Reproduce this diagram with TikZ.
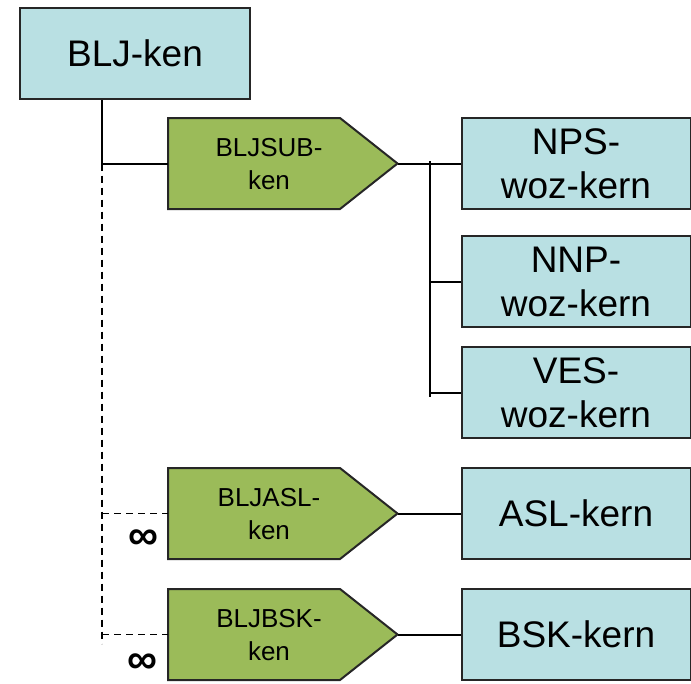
\documentclass[tikz,border=0pt]{standalone}
\usepackage{fontspec}
\setmainfont{Liberation Sans}
\definecolor{boxblue}{RGB}{185,224,227}
\definecolor{boxgreen}{RGB}{155,187,89}
\begin{document}
\begin{tikzpicture}[x=1pt,y=-1pt,
  bluebox/.style={draw=black!85,line width=2pt,fill=boxblue,minimum width=229pt,minimum height=91pt,inner sep=0pt,align=center,font=\fontsize{37}{44}\selectfont},
  gshape/.style={draw=black!85,line width=2pt,fill=boxgreen},
  gtext/.style={align=center,inner sep=0pt,font=\fontsize{26}{33}\selectfont},
  conn/.style={line width=2pt,draw=black},
  dconn/.style={line width=1.8pt,draw=black,dash pattern=on 7pt off 5pt},
  inf/.style={inner sep=0pt,font=\fontsize{42}{42}\selectfont\bfseries}]
\useasboundingbox (0,0) rectangle (691,683);
% top box
\node[bluebox,minimum width=230pt] (blj) at (135,53.5) {BLJ-ken};
% green shapes
\path[gshape] (168,118) -- (340,118) -- (397.5,163.5) -- (340,209) -- (168,209) -- cycle;
\coordinate (subL) at (168,163.5);
\coordinate (subT) at (397.5,163.5);
\node[gtext] (sub) at (269,164) {BLJSUB-\\ken};
\path[gshape] (168,468) -- (340,468) -- (397.5,513.5) -- (340,559) -- (168,559) -- cycle;
\coordinate (aslL) at (168,513.5);
\coordinate (aslT) at (397.5,513.5);
\node[gtext] (asl) at (269,514) {BLJASL-\\ken};
\path[gshape] (168,589) -- (340,589) -- (397.5,634.5) -- (340,680) -- (168,680) -- cycle;
\coordinate (bskL) at (168,634.5);
\coordinate (bskT) at (397.5,634.5);
\node[gtext] (bsk) at (269,635) {BLJBSK-\\ken};
% right boxes
\node[bluebox] (nps) at (576,163.5) {NPS-\\woz-kern};
\node[bluebox] (nnp) at (576,281.5) {NNP-\\woz-kern};
\node[bluebox] (ves) at (576,392.5) {VES-\\woz-kern};
\node[bluebox] (aslk) at (576,513.5) {ASL-kern};
\node[bluebox] (bskk) at (576,634.5) {BSK-kern};
% trunk
\coordinate (t0) at ([xshift=83pt]blj.south west);
\coordinate (t1) at (t0 |- subL);
\coordinate (t2) at (t0 |- aslL);
\coordinate (t3) at (t0 |- bskL);
\coordinate (tend) at ([yshift=-9pt]t3);
\draw[conn] (t0) -- (t1) -- (subL);
\draw[dconn] (t1) -- (tend);
\draw[dconn] (t2) -- (aslL);
\draw[dconn] (t3) -- (bskL);
% bus
\coordinate (b0) at (430,161);
\coordinate (b1) at (430,397);
\draw[conn] (subT) -- (nps.west);
\draw[conn] (b0) -- (b1);
\draw[conn] (b0 |- nnp.west) -- (nnp.west);
\draw[conn] (b0 |- ves.west) -- (ves.west);
\draw[conn] (aslT) -- (aslk.west);
\draw[conn] (bskT) -- (bskk.west);
% infinity
\node[inf] (inf1) at (143,540) {∞};
\node[inf] (inf2) at (142,664) {∞};
\end{tikzpicture}
\end{document}
